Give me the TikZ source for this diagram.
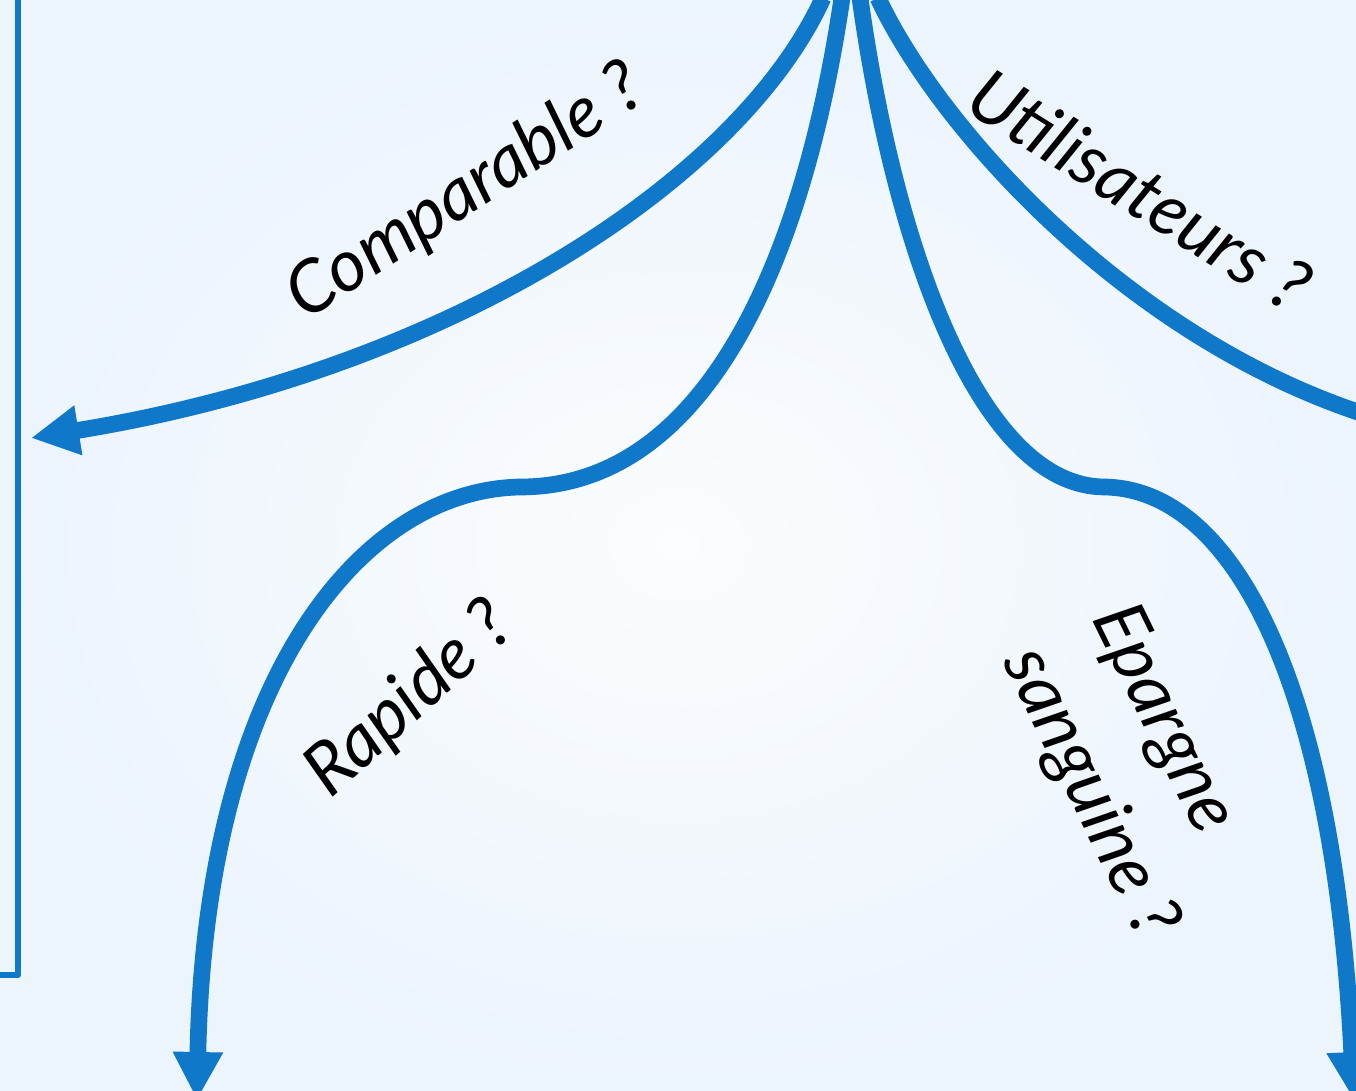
\documentclass[tikz,border=0pt]{standalone}
\usepackage{fontspec}
\setmainfont{Lato}
\usetikzlibrary{arrows.meta}
\definecolor{flowblue}{RGB}{16,120,200}
\definecolor{bgedge}{RGB}{236,244,252}
\definecolor{bgmid}{RGB}{251,253,255}

\begin{document}
\begin{tikzpicture}[x=0.02cm,y=-0.02cm,
  branch/.style={flowblue,line width=9.5pt},
  tip/.style={-{Triangle[length=0.96cm,width=0.94cm]}},
  question/.style={font=\fontsize{41}{56}\selectfont\itshape}]
\useasboundingbox (0,0) rectangle (1356,1091);
\shade[inner color=bgmid,outer color=bgedge] (0,0) rectangle (1356,1091);

% box at the left
\draw[flowblue,line width=3.4pt,line join=round] (18,-10) -- (18,975) -- (-10,975);

\coordinate (top1) at (823,-2);
\coordinate (top2) at (842,-2);
\coordinate (top3) at (860,-2);
\coordinate (top4) at (878,-2);
\coordinate (left) at (31,438);
\coordinate (bumpL) at (520,487);
\coordinate (downL) at (197,1100);
\coordinate (bumpR) at (1105,487);
\coordinate (downR) at (1354,1100);
\coordinate (right) at (1370,416);

\draw[branch,tip] (top1) .. controls (740,180) and (450,370) .. (left);
\draw[branch,tip] (top2) .. controls (805,250) and (710,487) .. (bumpL)
  .. controls (360,490) and (205,680) .. (downL);
\draw[branch,tip] (top3) .. controls (895,250) and (980,487) .. (bumpR)
  .. controls (1240,490) and (1335,700) .. (downR);
\draw[branch] (top4) .. controls (940,130) and (1130,340) .. (right);

\node[question,rotate=33] (comparable) at (466,193) {Comparable ?};
\node[question,rotate=-32] (users) at (1140,190) {Utilisateurs ?};
\node[question,rotate=42] (rapide) at (410,700) {Rapide ?};
\node[question,rotate=-64,align=left] (epargne) at (1133,772) {Epargne\\sanguine ?};
\end{tikzpicture}
\end{document}
